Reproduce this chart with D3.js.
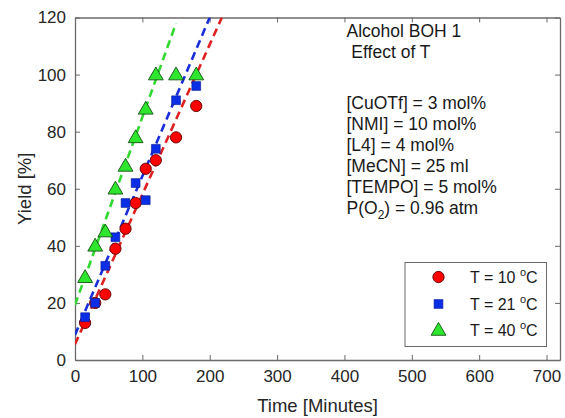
<!DOCTYPE html>
<html>
<head>
<meta charset="utf-8">
<script src="https://cdn.jsdelivr.net/npm/d3@7"></script>
<style>
  body { margin: 0; background: #fff; }
  svg { display: block; font-family: "Liberation Sans", Arial, sans-serif; }
  .tick-label { font-size: 17px; fill: #262626; }
  .axis-title { font-size: 18.5px; fill: #262626; }
  .note { font-size: 17.5px; fill: #1a1a1a; }
  .legend-text { font-size: 16px; fill: #1a1a1a; }
</style>
</head>
<body>
<script>
const WIDTH = 565;
const HEIGHT = 418;

// data
const times = [15, 30, 45, 60, 75, 90, 105, 120, 150, 180];
const yield10 = [13, 20, 23, 39, 46, 55, 67, 70, 78, 89];
const yield21 = [15, 20, 33, 43, 55, 62, 56, 74, 91, 96];
const yield40 = [29, 40, 45, 60, 68, 78, 88, 100, 100, 100];

// dashed fit lines, [time, yield] end points
const fit10 = [[0, 5.5], [218, 120]];
const fit21 = [[0, 8.8], [200, 120]];
const fit40 = [[0, 19.3], [150, 118]];

const xTicks = [0, 100, 200, 300, 400, 500, 600, 700];
const yTicks = [0, 20, 40, 60, 80, 100, 120];

const legendLabels = ['10', '21', '40'];
const notes = ['Alcohol BOH 1', ' Effect of T', '[CuOTf] = 3 mol%', '[NMI] = 10 mol%',
  '[L4] = 4 mol%', '[MeCN] = 25 ml', '[TEMPO] = 5 mol%', 'P(O2) = 0.96 atm'];

const plot = { left: 75, right: 560, top: 17.5, bottom: 360 };

const series = [
  { y: yield10, fit: fit10, shape: 'circle', fill: '#ff0000', stroke: '#5a0000', line: '#e02020' },
  { y: yield21, fit: fit21, shape: 'square', fill: '#0a2ee6', stroke: '#0a1a90', line: '#1a2ed8' },
  { y: yield40, fit: fit40, shape: 'triangle', fill: '#2fe62f', stroke: '#145014', line: '#30d830' },
];

const xScale = d3.scaleLinear().domain([0, 720]).range([plot.left, plot.right]);
const yScale = d3.scaleLinear().domain([0, 120]).range([plot.bottom, plot.top]);

const svg = d3.select('body').append('svg')
  .attr('width', WIDTH)
  .attr('height', HEIGHT);

svg.append('clipPath').attr('id', 'clip')
  .append('rect')
  .attr('x', plot.left).attr('y', plot.top)
  .attr('width', plot.right - plot.left).attr('height', plot.bottom - plot.top);

// axes box with inward ticks on all four sides
const axisColor = '#6a6a6a';
const tickLen = 5;

svg.append('g')
  .attr('transform', 'translate(0,' + plot.bottom + ')')
  .call(d3.axisBottom(xScale).tickValues(xTicks).tickSize(-tickLen).tickSizeOuter(0).tickPadding(10))
  .call(g => g.select('.domain').attr('stroke', axisColor))
  .call(g => g.selectAll('.tick line').attr('stroke', axisColor))
  .call(g => g.selectAll('.tick text').attr('class', 'tick-label').attr('font-size', null).attr('font-family', null));

svg.append('g')
  .attr('transform', 'translate(0,' + plot.top + ')')
  .call(d3.axisTop(xScale).tickValues(xTicks).tickSize(-tickLen).tickSizeOuter(0).tickFormat(''))
  .call(g => g.select('.domain').attr('stroke', axisColor))
  .call(g => g.selectAll('.tick line').attr('stroke', axisColor));

svg.append('g')
  .attr('transform', 'translate(' + plot.left + ',0)')
  .call(d3.axisLeft(yScale).tickValues(yTicks).tickSize(-tickLen).tickSizeOuter(0).tickPadding(9))
  .call(g => g.select('.domain').attr('stroke', axisColor))
  .call(g => g.selectAll('.tick line').attr('stroke', axisColor))
  .call(g => g.selectAll('.tick text').attr('class', 'tick-label').attr('font-size', null).attr('font-family', null));

svg.append('g')
  .attr('transform', 'translate(' + plot.right + ',0)')
  .call(d3.axisRight(yScale).tickValues(yTicks).tickSize(-tickLen).tickSizeOuter(0).tickFormat(''))
  .call(g => g.select('.domain').attr('stroke', axisColor))
  .call(g => g.selectAll('.tick line').attr('stroke', axisColor));

svg.selectAll('.domain').attr('stroke-width', 1.3);

// axis titles
svg.append('text')
  .attr('class', 'axis-title')
  .attr('x', (plot.left + plot.right) / 2)
  .attr('y', 412)
  .attr('text-anchor', 'middle')
  .text('Time [Minutes]');

svg.append('text')
  .attr('class', 'axis-title')
  .attr('transform', 'translate(31,' + (plot.top + plot.bottom) / 2 + ') rotate(-90)')
  .attr('text-anchor', 'middle')
  .text('Yield [%]');

// fit lines
const line = d3.line().x(d => xScale(d[0])).y(d => yScale(d[1]));

svg.append('g')
  .attr('clip-path', 'url(#clip)')
  .selectAll('path')
  .data(series)
  .enter()
  .append('path')
  .attr('d', d => line(d.fit))
  .attr('fill', 'none')
  .attr('stroke', d => d.line)
  .attr('stroke-width', 2.6)
  .attr('stroke-dasharray', '8,5');

// markers
const symbolFor = {
  circle: d3.symbol().type(d3.symbolCircle).size(100),
  square: d3.symbol().type(d3.symbolSquare).size(78),
  triangle: d3.symbol().type(d3.symbolTriangle).size(95),
};

series.forEach(s => {
  svg.append('g')
    .selectAll('path')
    .data(times)
    .enter()
    .append('path')
    .attr('transform', (t, i) => 'translate(' + xScale(t) + ',' + (yScale(s.y[i]) + (s.shape == 'triangle' ? 1 : 0)) + ')')
    .attr('d', symbolFor[s.shape]())
    .attr('fill', s.fill)
    .attr('stroke', s.stroke)
    .attr('stroke-width', s.shape == 'square' ? 0.6 : 0.9);
});

// annotation text
const noteY = [36.5, 58, 109, 130, 151, 172, 192.5, 213.5];

notes.forEach((n, i) => {
  const t = svg.append('text')
    .attr('class', 'note')
    .attr('x', 346.5)
    .attr('y', noteY[i])
    .attr('xml:space', 'preserve');
  if (n.indexOf('O2') >= 0) {
    t.append('tspan').text('P(O');
    t.append('tspan').attr('font-size', '12px').attr('dy', 5).text('2');
    t.append('tspan').attr('dy', -5).text(') = 0.96 atm');
  } else {
    t.text(n);
  }
});

// legend
const legend = svg.append('g').attr('id', 'legend');

legend.append('rect')
  .attr('x', 405).attr('y', 262.5)
  .attr('width', 141.5).attr('height', 84)
  .attr('fill', '#fff')
  .attr('stroke', axisColor)
  .attr('stroke-width', 1);

const legendY = [277, 304, 330];

series.forEach((s, i) => {
  legend.append('path')
    .attr('transform', 'translate(438.5,' + (legendY[i] + (s.shape == 'triangle' ? 1 : 0)) + ')')
    .attr('d', symbolFor[s.shape]())
    .attr('fill', s.fill)
    .attr('stroke', s.stroke)
    .attr('stroke-width', s.shape == 'square' ? 0.6 : 0.9);

  const t = legend.append('text')
    .attr('class', 'legend-text')
    .attr('x', 470)
    .attr('y', legendY[i] + 6);
  t.append('tspan').text('T = ' + legendLabels[i] + ' ');
  t.append('tspan').attr('font-size', '11px').attr('dy', -7).text('o');
  t.append('tspan').attr('dy', 7).text('C');
});
</script>
</body>
</html>
